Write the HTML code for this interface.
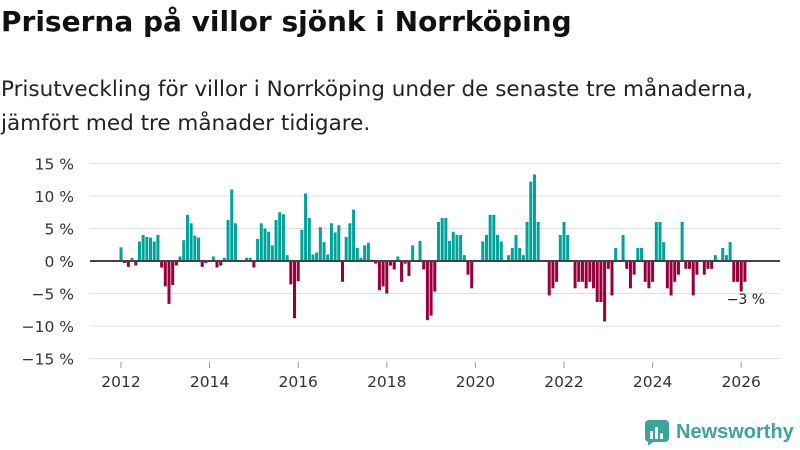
<!DOCTYPE html>
<html><head><meta charset="utf-8"><style>
body{margin:0;width:800px;height:450px;background:#fff;font-family:"DejaVu Sans","Liberation Sans",sans-serif;overflow:hidden;position:relative;color:#111}
h1{position:absolute;left:1px;top:5px;margin:0;font-size:28px;font-weight:bold;letter-spacing:0}
p{position:absolute;left:1px;top:73px;margin:0;font-size:21.5px;line-height:34px;color:#222}
</style></head><body>
<h1>Priserna på villor sjönk i Norrköping</h1>
<p>Prisutveckling för villor i Norrköping under de senaste tre månaderna,<br>jämfört med tre månader tidigare.</p>
<svg id="chart" width="800" height="450" style="position:absolute;left:0;top:0"></svg>
<div style="position:absolute;left:644px;top:419px;display:flex;align-items:center">
<svg width="26" height="26"><rect x="1" y="1" width="24" height="22" rx="4" fill="#3aa59b"/><rect x="6" y="12" width="3" height="8" fill="#fff"/><rect x="11" y="8" width="3" height="12" fill="#fff"/><rect x="16" y="14" width="3" height="6" fill="#fff"/><path d="M4 23 L4 27 L9 23Z" fill="#3aa59b"/></svg>
<span style="font-family:'Liberation Sans',sans-serif;font-size:20px;font-weight:bold;color:#3aa59b;margin-left:6px">Newsworthy</span></div>
<script>
const startYear = 2012;
const values = [2.1,-0.3,-0.9,0.5,-0.7,3.0,4.0,3.7,3.6,3.0,
4.0,-1.0,-3.9,-6.6,-3.7,-0.7,0.7,3.2,7.1,5.8,
3.9,3.6,-0.9,-0.3,0,0.7,-1.0,-0.7,0.5,6.3,
11.0,5.8,0,0,0.5,0.5,-1.0,3.4,5.8,5.0,
4.5,2.4,6.3,7.5,7.2,0.9,-3.6,-8.8,-3.1,4.8,
10.4,6.6,1.0,1.3,5.2,2.9,1.0,5.8,4.4,5.5,
-3.2,3.7,5.8,7.9,2.0,0.5,2.4,2.8,0.2,-0.4,
-4.5,-3.9,-5.0,-0.7,-1.3,0.7,-3.2,-0.4,-2.3,2.4,
0,3.1,-1.3,-9.1,-8.4,-4.7,6.0,6.6,6.6,3.1,
4.5,4.0,4.0,0.9,-2.1,-4.2,0,0,3.0,4.0,
7.1,7.1,4.0,3.0,0,0.9,2.0,4.0,2.0,0.9,
6.0,12.2,13.3,6.0,0,0,-5.3,-4.2,-3.2,4.0,
6.0,4.0,0,-4.2,-3.2,-3.2,-4.2,-3.2,-4.2,-6.3,
-6.3,-9.3,-1.2,-5.3,2.0,0,4.0,-1.2,-4.2,-2.1,
2.0,2.0,-3.2,-4.2,-3.2,6.0,6.0,2.9,-4.2,-5.3,
-3.2,-2.1,6.0,-1.2,-1.2,-5.3,-2.1,0,-2.1,-1.2,
-1.2,0.9,0,2.0,0.9,2.9,-3.2,-3.2,-4.7,-3.2];
const yTicks = [15,10,5,0,-5,-10,-15];
const xTicks = [2012,2014,2016,2018,2020,2022,2024,2026];
const lastLabel = "−3 %";

const NS="http://www.w3.org/2000/svg";
const svg=document.getElementById('chart');
const y=v=>261-v*6.5;
const x=yr=>121+(yr-2012)*44.3;
const xm=i=>x(startYear+i/12);
function mk(t,a){const e=document.createElementNS(NS,t);for(const k in a)e.setAttribute(k,a[k]);svg.appendChild(e);return e;}
yTicks.forEach(t=>{
  const g=mk('line',{x1:90,x2:780,y1:y(t),y2:y(t),stroke:'#e0e0e0','stroke-width':1});
  
  
  const l=mk('text',{x:74,y:y(t)+6,'text-anchor':'end','font-size':15.5,fill:'#333'});
  l.textContent=(t<0?'−'+(-t):t)+' %';
  
  
});
xTicks.forEach(t=>{
  const l=mk('text',{x:x(t),y:387,'text-anchor':'middle','font-size':15.5,fill:'#333'});
  l.textContent=t;
  
  
  const tk=mk('line',{x1:x(t),x2:x(t),y1:362,y2:368,stroke:'#999'});
  
  
});
values.forEach((v,i)=>{
  const cx=xm(i);
  const r=mk('rect',{x:cx-1.5,width:3,y:Math.min(y(v),y(0)),height:Math.abs(y(v)-y(0)),fill:v>=0?'#00a39a':'#98003c'});
  
  
});
const z=mk('line',{x1:90,x2:780,y1:y(0),y2:y(0),stroke:'#444','stroke-width':2});


const ll=mk('text',{x:xm(values.length-1)+1,y:304,'text-anchor':'middle','font-size':14,fill:'#222'});
ll.textContent=lastLabel;


</script>
</body></html>
